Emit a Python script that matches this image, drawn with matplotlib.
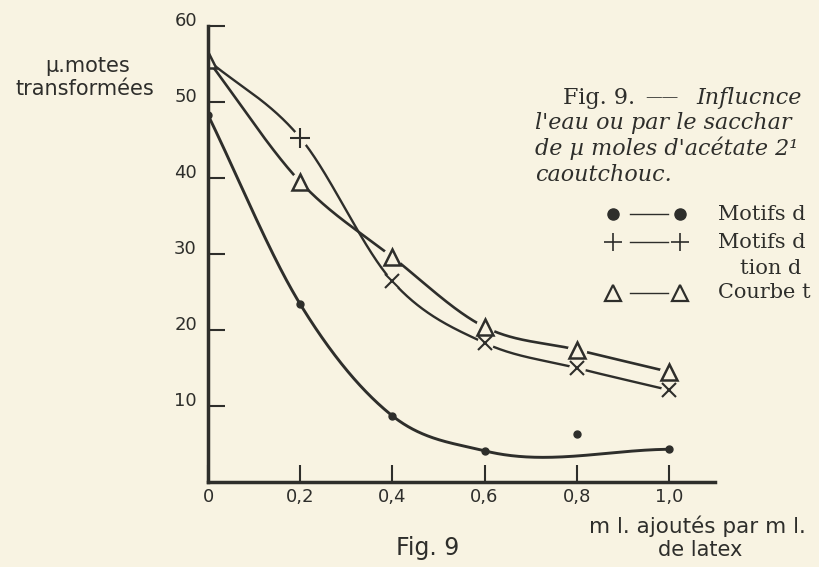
import numpy as np
import matplotlib.pyplot as plt
import matplotlib.transforms as mtransforms
from matplotlib.lines import Line2D

# valeurs (µ moles transformées)
ml_latex = [0, 0.2, 0.4, 0.6, 0.8, 1.0]
motifs_points = [48.3, 23.4, 8.7, 4.1, 6.3, 4.3]      # points noirs
motifs_croix = [55.5, 45.3, 26.4, 18.3, 15.0, 12.1]   # croix
courbe_tri = [55.5, 39.5, 29.6, 20.4, 17.4, 14.5]     # triangles

x_ticks = [0, 0.2, 0.4, 0.6, 0.8, 1.0]
x_ticklabels = ["0", "0,2", "0,4", "0,6", "0,8", "1,0"]
y_ticks = [10, 20, 30, 40, 50, 60]

ink = "#2e2e2b"
paper = "#f8f3e2"


def courbe_lisse(x, y, n=200):
    # courbe de Hermite (pentes de Catmull-Rom) passant par les points
    x = np.asarray(x, float)
    y = np.asarray(y, float)
    m = np.gradient(y, x, edge_order=1)
    xs, ys = [], []
    for i in range(len(x) - 1):
        h = x[i + 1] - x[i]
        t = np.linspace(0, 1, n)
        h00 = 2*t**3 - 3*t**2 + 1
        h10 = t**3 - 2*t**2 + t
        h01 = -2*t**3 + 3*t**2
        h11 = t**3 - t**2
        xs.append(x[i] + t*h)
        ys.append(h00*y[i] + h10*h*m[i] + h01*y[i + 1] + h11*h*m[i + 1])
    return np.concatenate(xs), np.concatenate(ys)


fig = plt.figure(figsize=(8.19, 5.67), dpi=100, facecolor=paper)
ax = fig.add_axes([0.254, 0.150, 0.619, 0.804])
ax.set_facecolor(paper)

# points noirs : la courbe ne passe pas par le point a 0,8
sel = [0, 1, 2, 3, 5]
cx, cy = courbe_lisse([ml_latex[i] for i in sel], [motifs_points[i] for i in sel])
ax.plot(cx, cy, color=ink, lw=2.1)
ax.plot(ml_latex, motifs_points, "o", color=ink, ms=5)

cx, cy = courbe_lisse(ml_latex, courbe_tri)
ax.plot(cx, cy, color=ink, lw=1.9)
cx, cy = courbe_lisse(ml_latex, motifs_croix)
ax.plot(cx, cy, color=ink, lw=1.7)

# petits blancs autour des signes, comme sur le dessin
ax.plot(ml_latex[1:], courbe_tri[1:], "o", color=paper, ms=13)
ax.plot(ml_latex[1:], motifs_croix[1:], "o", color=paper, ms=11)
ax.plot(ml_latex, courbe_tri, "^", mfc=paper, mec=ink, mew=1.8, ms=11)
ax.plot(ml_latex[1:2], motifs_croix[1:2], "+", color=ink, mew=1.5, ms=14)
ax.plot(ml_latex[2:], motifs_croix[2:], "x", color=ink, mew=1.5, ms=10)

ax.set_xlim(0, 1.1)
ax.set_ylim(0, 60)
for s in ["top", "right"]:
    ax.spines[s].set_visible(False)
for s in ["left", "bottom"]:
    ax.spines[s].set_linewidth(2.5)
    ax.spines[s].set_color(ink)
ax.set_xticks(x_ticks)
ax.set_xticklabels(x_ticklabels)
ax.set_yticks(y_ticks)
ax.tick_params(direction="in", length=12, width=1.5, color=ink,
               labelcolor=ink, labelsize=13, pad=4)
ax.tick_params(axis="y", pad=8)
# les chiffres de l'axe vertical sont ecrits un peu au-dessus des traits
up = mtransforms.ScaledTranslation(0, 7 / 100, fig.dpi_scale_trans)
for lab in ax.get_yticklabels():
    lab.set_transform(lab.get_transform() + up)

# legende dessinee a la main (coordonnees en pixels de la page)
leg = fig.add_axes([0, 0, 1, 1], facecolor="none")
leg.set_xlim(0, 819)
leg.set_ylim(567, 0)
leg.axis("off")
for yy, mk, kw in [(214, "o", dict(color=ink, ms=8)),
                   (242, "+", dict(color=ink, ms=13, mew=1.2)),
                   (293, "^", dict(mfc=paper, mec=ink, mew=1.6, ms=12))]:
    leg.plot([613, 680], [yy, yy], mk, ls="none", **kw)
    leg.add_line(Line2D([630, 668], [yy, yy], color=ink, lw=1.0))

serif = "DejaVu Serif"
fs = 16
fig.text(563 / 819, 1 - 98 / 567, "Fig. 9.", family=serif, size=fs,
         color=ink, va="center")
fig.text(645 / 819, 1 - 98 / 567, "——", family=serif, size=fs - 4,
         color=ink, va="center")
fig.text(696 / 819, 1 - 98 / 567, "Influcnce", family=serif, size=fs,
         style="italic", color=ink, va="center")
for yy, t in [(123, "l'eau ou par le sacchar"),
              (148, "de µ moles d'acétate 2¹"),
              (175, "caoutchouc.")]:
    fig.text(535 / 819, 1 - yy / 567, t, family=serif, size=fs,
             style="italic", color=ink, va="center")
for xx, yy, t in [(718, 214, "Motifs d"), (718, 242, "Motifs d"),
                  (740, 268, "tion d"), (718, 293, "Courbe t")]:
    fig.text(xx / 819, 1 - yy / 567, t, family=serif, size=15,
             color=ink, va="center")

# annotations manuscrites
fig.text(88 / 819, 1 - 66 / 567, "µ.motes", size=15, color=ink,
         ha="center", va="center")
fig.text(85 / 819, 1 - 89 / 567, "transformées", size=15, color=ink,
         ha="center", va="center")
fig.text(697 / 819, 1 - 526 / 567, "m l. ajoutés par m l.", size=15.5,
         color=ink, ha="center", va="center")
fig.text(700 / 819, 1 - 550 / 567, "de latex", size=15, color=ink,
         ha="center", va="center")
fig.text(428 / 819, 1 - 548 / 567, "Fig. 9", size=17, color=ink,
         ha="center", va="center")

fig.savefig("out.png", dpi=100, facecolor=paper)
